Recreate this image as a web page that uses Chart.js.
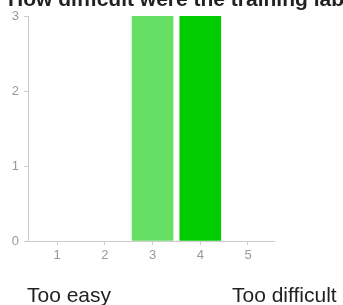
<!DOCTYPE html>
<html>
<head>
<meta charset="utf-8">
<script src="https://cdn.jsdelivr.net/npm/chart.js@4"></script>
<style>
  html, body { margin: 0; padding: 0; background: #fff; }
  body { width: 343px; height: 305px; position: relative; overflow: hidden; font-family: "Liberation Sans", Arial, sans-serif; }
  #wrap { position: absolute; left: 0; top: 0; width: 343px; height: 305px; }
  #title { position: absolute; left: 8px; top: -11px; font-size: 21px; line-height: 20px; font-weight: bold; color: #222; white-space: nowrap; }
  .endlabel { position: absolute; top: 284px; font-size: 21px; line-height: 21px; color: #222; white-space: nowrap; }
</style>
</head>
<body>
<div id="wrap"><canvas id="c"></canvas></div>
<div id="title"></div>
<div class="endlabel" id="lowLabel" style="left:27px"></div>
<div class="endlabel" id="highLabel" style="left:232px"></div>
<script>
const titleText = 'How difficult were the training labs?';
const categories = [1, 2, 3, 4, 5];
const counts = [0, 0, 3, 3, 0];
const barColors = ['#cc0000', '#e08000', '#65e065', '#00cc00', '#009900'];
const yTickValues = [0, 1, 2, 3];
const scaleEndLabels = ['Too easy', 'Too difficult'];

document.getElementById('title').textContent = titleText;
document.getElementById('lowLabel').textContent = scaleEndLabels[0];
document.getElementById('highLabel').textContent = scaleEndLabels[1];

const points = categories.map((c, i) => ({ x: c, y: counts[i] }));

new Chart(document.getElementById('c'), {
  type: 'bar',
  data: {
    datasets: [{
      data: points,
      backgroundColor: ctx => (ctx.raw && ctx.raw.y > 0) ? barColors[ctx.dataIndex] : 'rgba(0,0,0,0)',
      borderWidth: 0,
      barThickness: 41
    }]
  },
  options: {
    responsive: true,
    maintainAspectRatio: false,
    animation: false,
    layout: { padding: { left: 8, right: 69, top: 16, bottom: 34 } },
    plugins: {
      legend: { display: false },
      tooltip: { enabled: false },
      title: { display: false }
    },
    scales: {
      x: {
        type: 'linear',
        offset: false,
        z: 1,
        min: 0.39,
        max: 5.545,
        afterBuildTicks: s => { s.ticks = categories.map(v => ({ value: v })); },
        afterFit: s => { s.height = 30; },
        grid: { display: true, offset: false, drawOnChartArea: false, drawTicks: true, tickLength: 4, color: '#cccccc' },
        border: { display: true, color: '#cccccc' },
        ticks: { color: '#999999', padding: 3, font: { family: 'Liberation Sans', size: 13 } }
      },
      y: {
        min: 0,
        max: 3,
        z: 1,
        afterBuildTicks: s => { s.ticks = yTickValues.map(v => ({ value: v })); },
        afterFit: s => { s.width = 20; },
        grid: { display: true, drawOnChartArea: false, drawTicks: true, tickLength: 4, color: '#cccccc' },
        border: { display: true, color: '#cccccc' },
        ticks: { color: '#999999', padding: 5, font: { family: 'Liberation Sans', size: 13 } }
      }
    }
  }
});
</script>
</body>
</html>
